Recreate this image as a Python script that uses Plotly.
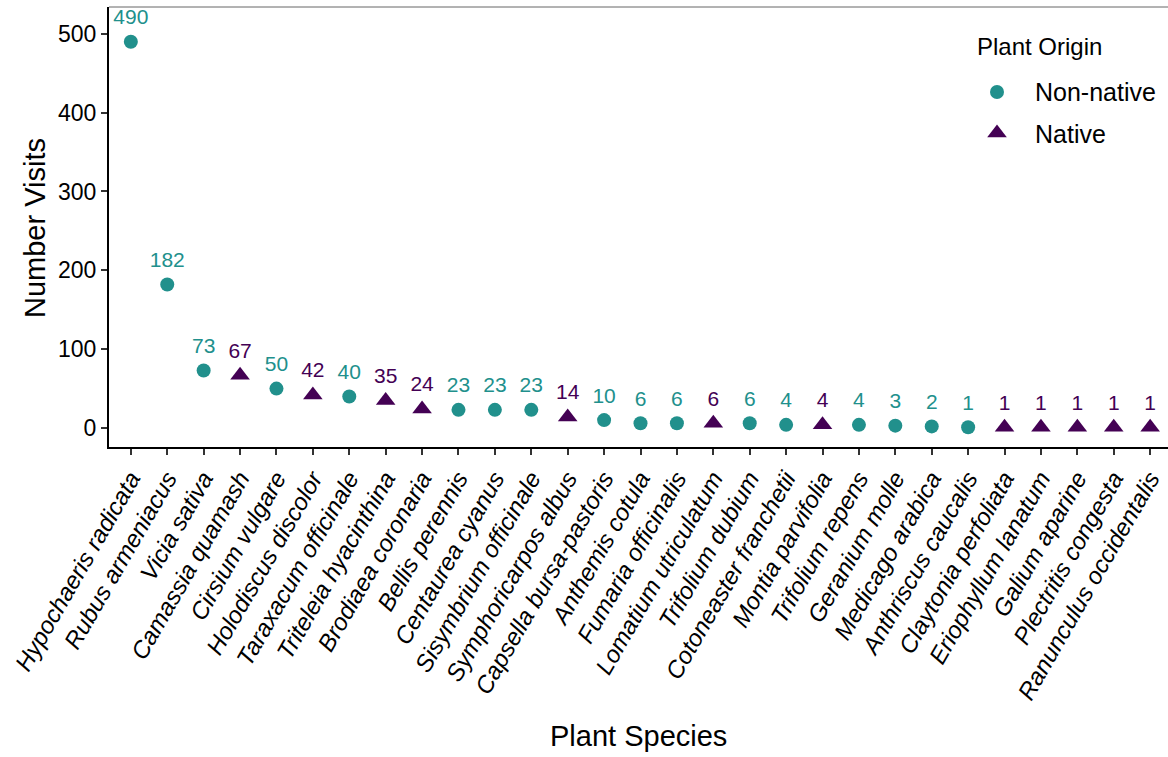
import plotly.graph_objects as go

species = ["Hypochaeris radicata", "Rubus armeniacus", "Vicia sativa", "Camassia quamash",
           "Cirsium vulgare", "Holodiscus discolor", "Taraxacum officinale", "Triteleia hyacinthina",
           "Brodiaea coronaria", "Bellis perennis", "Centaurea cyanus", "Sisymbrium officinale",
           "Symphoricarpos albus", "Capsella bursa-pastoris", "Anthemis cotula", "Fumaria officinalis",
           "Lomatium utriculatum", "Trifolium dubium", "Cotoneaster franchetii", "Montia parvifolia",
           "Trifolium repens", "Geranium molle", "Medicago arabica", "Anthriscus caucalis",
           "Claytonia perfoliata", "Eriophyllum lanatum", "Galium aparine", "Plectritis congesta",
           "Ranunculus occidentalis"]
visits = [490, 182, 73, 67, 50, 42, 40, 35, 24, 23, 23, 23, 14, 10, 6, 6, 6, 6, 4, 4, 4, 3, 2, 1, 1, 1, 1, 1, 1]
origin = ["Non-native", "Non-native", "Non-native", "Native", "Non-native", "Native", "Non-native",
          "Native", "Native", "Non-native", "Non-native", "Non-native", "Native", "Non-native",
          "Non-native", "Non-native", "Native", "Non-native", "Non-native", "Native", "Non-native",
          "Non-native", "Non-native", "Non-native", "Native", "Native", "Native", "Native", "Native"]
y_ticks = [0, 100, 200, 300, 400, 500]

groups = ["Non-native", "Native"]
colors = {"Non-native": "#21908C", "Native": "#440154"}
symbols = {"Non-native": "circle", "Native": "triangle-up"}
sizes = {"Non-native": 14, "Native": 17}
label_nudge = 29

FONT = "Arial, 'Liberation Sans', sans-serif"
idx = list(range(len(species)))

fig = go.Figure()
for g in groups:
    xs = [i for i in idx if origin[i] == g]
    ys = [visits[i] for i in xs]
    fig.add_trace(go.Scatter(
        x=xs, y=ys, mode="markers", name=g, showlegend=False,
        marker=dict(symbol=symbols[g], color=colors[g], size=sizes[g], line=dict(width=0)),
        cliponaxis=False,
    ))
    fig.add_trace(go.Scatter(
        x=xs, y=[v + label_nudge for v in ys], mode="text", text=[str(v) for v in ys],
        textfont=dict(color=colors[g], size=21, family=FONT), showlegend=False,
        cliponaxis=False, hoverinfo="skip",
    ))

# manual legend on a pixel-mapped overlay axis
leg_y = {"Non-native": 92, "Native": 134}
annotations = [dict(xref="x2", yref="y2", x=975, y=46, xanchor="left", yanchor="middle",
                    text="Plant Origin", showarrow=False, font=dict(size=24, color="black"))]
for g in groups:
    fig.add_trace(go.Scatter(
        x=[997], y=[leg_y[g] - (1 if g == "Native" else 0)], xaxis="x2", yaxis="y2",
        mode="markers", showlegend=False, hoverinfo="skip", cliponaxis=False,
        marker=dict(symbol=symbols[g], color=colors[g], size=sizes[g], line=dict(width=0)),
    ))
    annotations.append(dict(xref="x2", yref="y2", x=1033, y=leg_y[g], xanchor="left",
                            yanchor="middle", text=g, showarrow=False,
                            font=dict(size=25, color="black")))

# axis titles
annotations.append(dict(xref="paper", yref="paper", x=0.5, y=-289 / 440, xanchor="center",
                        yanchor="middle", text="Plant Species", showarrow=False,
                        font=dict(size=29, color="black")))
annotations.append(dict(xref="paper", yref="paper", x=-74 / 1059, y=(447 - 228) / 440,
                        xanchor="center", yanchor="middle", text="Number Visits",
                        textangle=-90, showarrow=False, font=dict(size=29, color="black")))

fig.update_layout(
    width=1168, height=757,
    margin=dict(l=109, r=0, t=7, b=310, autoexpand=False),
    plot_bgcolor="white", paper_bgcolor="white",
    font=dict(family=FONT, color="black", size=19),
    showlegend=False,
    xaxis=dict(
        tickmode="array", tickvals=idx,
        ticktext=["<i>%s</i>" % s for s in species],
        tickangle=-60, range=[-0.6, 28.49],
        showline=True, linecolor="black", linewidth=2,
        ticks="outside", ticklen=6, tickwidth=2, tickcolor="#333333",
        tickfont=dict(size=24, color="black"),
        showgrid=False, zeroline=False,
    ),
    yaxis=dict(
        range=[-24.1, 534], tickvals=y_ticks,
        showline=True, linecolor="black", linewidth=2,
        ticks="outside", ticklen=6, tickwidth=2, tickcolor="#333333",
        tickfont=dict(size=23, color="black"),
        showgrid=False, zeroline=False,
    ),
    xaxis2=dict(overlaying="x", range=[109, 1168], visible=False, fixedrange=True),
    yaxis2=dict(overlaying="y", range=[447, 7], visible=False, fixedrange=True),
    annotations=annotations,
    shapes=[dict(type="line", xref="paper", yref="paper", x0=0, x1=1, y0=1, y1=1,
                 line=dict(color="#666666", width=1))],
)

fig.write_html("out.html")
